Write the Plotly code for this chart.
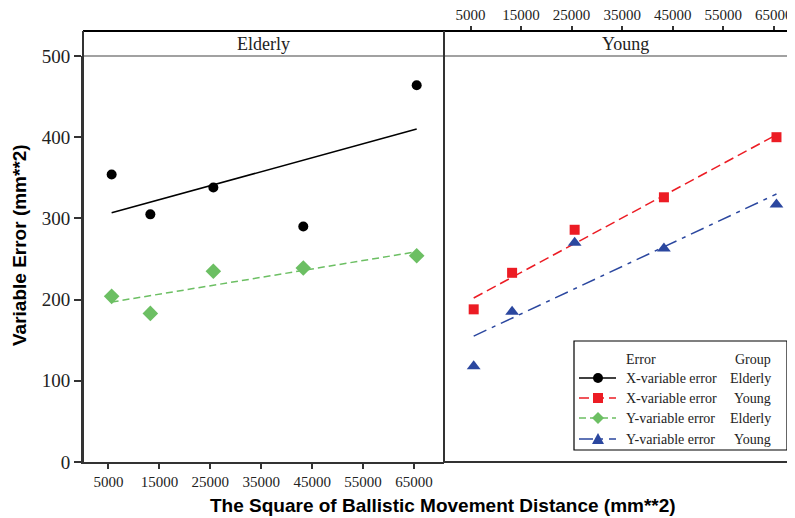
import plotly.graph_objects as go

# ---------------- data ----------------
x_dist = [5625, 13225, 25600, 43264, 65536]
elderly_x_err = [354, 305, 338, 290, 464]
elderly_y_err = [204, 183, 235, 239, 254]
young_x_err = [188, 233, 286, 326, 400]
young_y_err = [118, 185, 270, 263, 317]

fit_x = [5625, 65536]
elderly_x_fit = [307, 410]
elderly_y_fit = [197, 259]
young_x_fit = [202, 403]
young_y_fit = [155, 330]

x_ticks = [5000, 15000, 25000, 35000, 45000, 55000, 65000]
y_ticks = [0, 100, 200, 300, 400, 500]
panels = ["Elderly", "Young"]
legend_rows = [("X-variable error", "Elderly"), ("X-variable error", "Young"),
               ("Y-variable error", "Elderly"), ("Y-variable error", "Young")]

# ---------------- styling ----------------
BLACK = "#000000"
RED = "#ec1c24"
GREEN = "#6cbf63"
BLUE = "#2b479f"
FRAME = "#333333"
SERIF = "Liberation Serif, Times New Roman, serif"
SANS = "Liberation Sans, Arial, sans-serif"

# page body has an 8px margin; figure is sized so the window shows it like the reference
OFF = 8
W, H = 795 - OFF, 518 - OFF
ML, MR, MT, MB = 83 - OFF, 0, 31 - OFF, 56
PW, PH = W - ML - MR, H - MT - MB
SPLIT = (444 - 83) / PW
YTOP = (462 - 56) / PH


def px(X):
    """reference-window pixel x -> paper x"""
    return (X - 83) / PW


def py(Y):
    """reference-window pixel y -> paper y"""
    return (462 - Y) / PH


fig = go.Figure()

# left panel (Elderly)
fig.add_trace(go.Scatter(x=fit_x, y=elderly_x_fit, mode="lines",
                         line=dict(color=BLACK, width=1.5), xaxis="x", yaxis="y"))
fig.add_trace(go.Scatter(x=x_dist, y=elderly_x_err, mode="markers",
                         marker=dict(symbol="circle", size=10, color=BLACK), xaxis="x", yaxis="y"))
fig.add_trace(go.Scatter(x=fit_x, y=elderly_y_fit, mode="lines",
                         line=dict(color=GREEN, width=1.5, dash="7px,4px"), xaxis="x", yaxis="y"))
fig.add_trace(go.Scatter(x=x_dist, y=elderly_y_err, mode="markers",
                         marker=dict(symbol="diamond", size=12, color=GREEN), xaxis="x", yaxis="y"))

# right panel (Young)
fig.add_trace(go.Scatter(x=fit_x, y=young_x_fit, mode="lines",
                         line=dict(color=RED, width=1.5, dash="10px,5px"), xaxis="x2", yaxis="y2"))
fig.add_trace(go.Scatter(x=x_dist, y=young_x_err, mode="markers",
                         marker=dict(symbol="square", size=10, color=RED), xaxis="x2", yaxis="y2"))
fig.add_trace(go.Scatter(x=fit_x, y=young_y_fit, mode="lines",
                         line=dict(color=BLUE, width=1.5, dash="14px,6px,4px,6px"), xaxis="x2", yaxis="y2"))
fig.add_trace(go.Scatter(x=x_dist, y=young_y_err, mode="markers",
                         marker=dict(symbol="triangle-up", size=12, color=BLUE), xaxis="x2", yaxis="y2"))

shapes = []
# frame and strip
shapes.append(dict(type="line", xref="paper", yref="paper", x0=0, x1=1, y0=1, y1=1,
                   line=dict(color=BLACK, width=2)))
shapes.append(dict(type="line", xref="paper", yref="paper", x0=0, x1=1, y0=YTOP, y1=YTOP,
                   line=dict(color="#444444", width=1.2)))
shapes.append(dict(type="line", xref="paper", yref="paper", x0=0, x1=0, y0=0, y1=1,
                   line=dict(color=FRAME, width=2)))
shapes.append(dict(type="line", xref="paper", yref="paper", x0=SPLIT, x1=SPLIT, y0=0, y1=1,
                   line=dict(color=FRAME, width=2)))
shapes.append(dict(type="line", xref="paper", yref="paper", x0=SPLIT, x1=1, y0=0, y1=0,
                   line=dict(color=FRAME, width=2)))

# legend box
LX0, LY0, LX1, LY1 = 574, 341, 787, 450
shapes.append(dict(type="rect", xref="paper", yref="paper", x0=px(LX0), x1=px(LX1),
                   y0=py(LY1), y1=py(LY0), line=dict(color=BLACK, width=1.2), fillcolor="white"))

row_y = [378, 398, 418, 439]
leg_styles = [(BLACK, "solid", "circle"), (RED, "10px,5px", "square"),
              (GREEN, "7px,4px", "diamond"), (BLUE, "14px,6px,4px,6px", "triangle")]
annotations = []
for (name, grp), Y, (col, dash, sym) in zip(legend_rows, row_y, leg_styles):
    shapes.append(dict(type="line", xref="paper", yref="paper", x0=px(579), x1=px(616),
                       y0=py(Y), y1=py(Y), line=dict(color=col, width=1.5, dash=dash)))
    cx = 598
    if sym == "circle":
        shapes.append(dict(type="circle", xref="paper", yref="paper", x0=px(cx - 5), x1=px(cx + 5),
                           y0=py(Y + 5), y1=py(Y - 5), fillcolor=col, line=dict(color=col, width=0)))
    elif sym == "square":
        shapes.append(dict(type="rect", xref="paper", yref="paper", x0=px(cx - 5), x1=px(cx + 5),
                           y0=py(Y + 5), y1=py(Y - 5), fillcolor=col, line=dict(color=col, width=0)))
    elif sym == "diamond":
        pts = [(cx - 6, Y), (cx, Y - 6), (cx + 6, Y), (cx, Y + 6)]
        path = "M " + " L ".join(f"{px(a):.5f},{py(b):.5f}" for a, b in pts) + " Z"
        shapes.append(dict(type="path", xref="paper", yref="paper", path=path,
                           fillcolor=col, line=dict(color=col, width=0)))
    else:
        pts = [(cx - 6, Y + 5), (cx + 6, Y + 5), (cx, Y - 6)]
        path = "M " + " L ".join(f"{px(a):.5f},{py(b):.5f}" for a, b in pts) + " Z"
        shapes.append(dict(type="path", xref="paper", yref="paper", path=path,
                           fillcolor=col, line=dict(color=col, width=0)))
    annotations.append(dict(text=name, x=px(624), y=py(Y), xref="paper", yref="paper",
                            xanchor="left", yanchor="middle", showarrow=False,
                            font=dict(family=SERIF, size=14, color="#222")))
    annotations.append(dict(text=grp, x=px(773), y=py(Y), xref="paper", yref="paper",
                            xanchor="right", yanchor="middle", showarrow=False,
                            font=dict(family=SERIF, size=14, color="#222")))

annotations.append(dict(text="Error", x=px(624), y=py(359), xref="paper", yref="paper",
                        xanchor="left", yanchor="middle", showarrow=False,
                        font=dict(family=SERIF, size=14, color="#222")))
annotations.append(dict(text="Group", x=px(773), y=py(359), xref="paper", yref="paper",
                        xanchor="right", yanchor="middle", showarrow=False,
                        font=dict(family=SERIF, size=14, color="#222")))

# strip labels
annotations.append(dict(text=panels[0], x=px(263), y=py(43.5), xref="paper", yref="paper",
                        xanchor="center", yanchor="middle", showarrow=False,
                        font=dict(family=SERIF, size=18, color="#222")))
annotations.append(dict(text=panels[1], x=px(625), y=py(43.5), xref="paper", yref="paper",
                        xanchor="center", yanchor="middle", showarrow=False,
                        font=dict(family=SERIF, size=18, color="#222")))

# axis titles
annotations.append(dict(text="<b>The Square of Ballistic Movement Distance (mm**2)</b>",
                        x=px(443), y=py(505), xref="paper", yref="paper",
                        xanchor="center", yanchor="middle", showarrow=False,
                        font=dict(family=SANS, size=19, color=BLACK)))
annotations.append(dict(text="<b>Variable Error (mm**2)</b>", textangle=-90,
                        x=px(20), y=py(245), xref="paper", yref="paper",
                        xanchor="center", yanchor="middle", showarrow=False,
                        font=dict(family=SANS, size=19, color=BLACK)))

fig.update_layout(
    width=W, height=H,
    margin=dict(l=ML, r=MR, t=MT, b=MB, pad=0),
    paper_bgcolor="white", plot_bgcolor="white",
    showlegend=False,
    xaxis=dict(domain=[0, SPLIT], range=[0, 70900], anchor="y",
               tickvals=x_ticks, ticktext=[str(v) for v in x_ticks],
               ticks="outside", ticklen=5, tickwidth=1.5, tickcolor=FRAME,
               showline=True, linecolor=FRAME, linewidth=2, mirror=False,
               showgrid=False, zeroline=False,
               tickfont=dict(family=SERIF, size=15, color="#222")),
    yaxis=dict(domain=[0, YTOP], range=[0, 500], anchor="x",
               tickvals=y_ticks, ticks="outside", ticklen=7, tickwidth=1.5, tickcolor=FRAME,
               showline=True, linecolor=FRAME, linewidth=2,
               showgrid=False, zeroline=False,
               tickfont=dict(family=SERIF, size=19, color="#222")),
    xaxis2=dict(domain=[SPLIT, 1], range=[-250, 69200], anchor="free", position=1, side="top",
                tickvals=x_ticks, ticktext=[str(v) for v in x_ticks],
                ticks="outside", ticklen=5, tickwidth=1.5, tickcolor=FRAME,
                showline=False, showgrid=False, zeroline=False,
                tickfont=dict(family=SERIF, size=15, color="#222")),
    yaxis2=dict(domain=[0, YTOP], range=[0, 500], anchor="x2", visible=False,
                showgrid=False, zeroline=False),
    shapes=shapes,
    annotations=annotations,
)

fig.write_html("out.html")
